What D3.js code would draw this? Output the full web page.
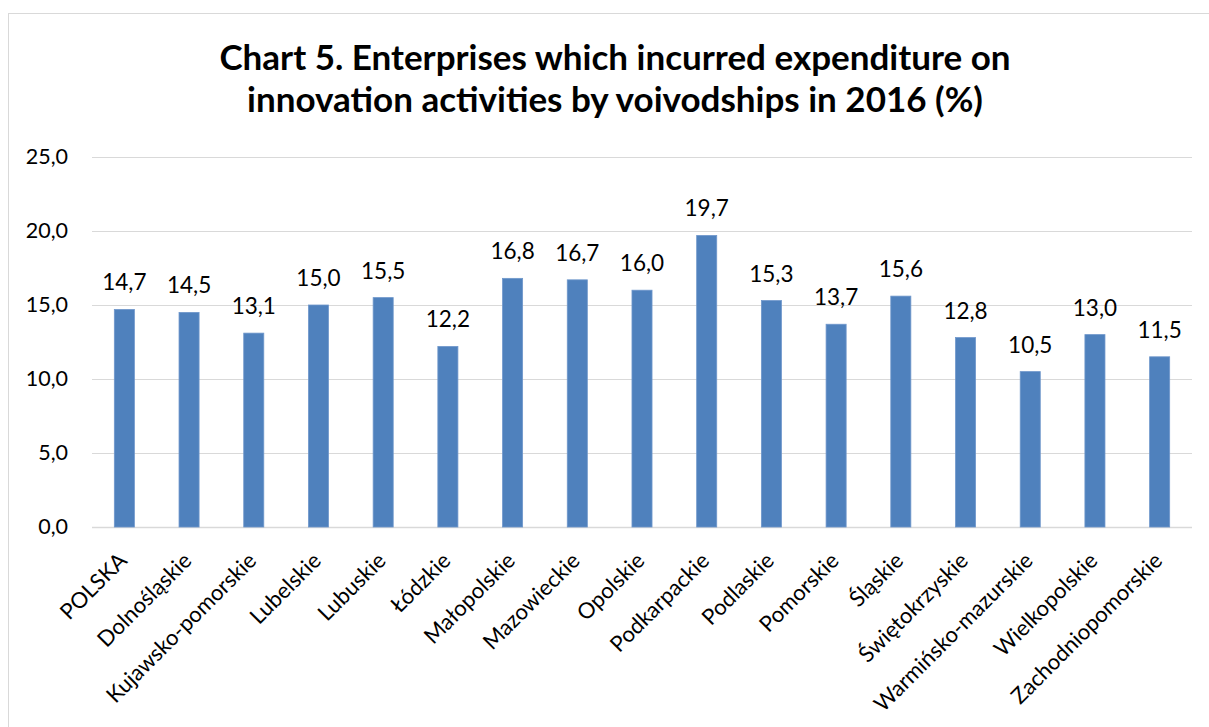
<!DOCTYPE html>
<html>
<head>
<meta charset="utf-8">
<script src="https://cdn.jsdelivr.net/npm/d3@7"></script>
<style>
  html, body { margin: 0; padding: 0; background: #fff; }
  svg { display: block; }
  text { font-family: Lato, "Open Sans", sans-serif; fill: #000; }
</style>
</head>
<body>
<svg id="chart" width="1209" height="727"></svg>
<script>
// Voivodships and their share of enterprises with innovation expenditure (%)
const categories = ["POLSKA", "Dolnośląskie", "Kujawsko-pomorskie", "Lubelskie", "Lubuskie",
  "Łódzkie", "Małopolskie", "Mazowieckie", "Opolskie", "Podkarpackie", "Podlaskie",
  "Pomorskie", "Śląskie", "Świętokrzyskie", "Warmińsko-mazurskie", "Wielkopolskie",
  "Zachodniopomorskie"];
const values = [14.7, 14.5, 13.1, 15.0, 15.5, 12.2, 16.8, 16.7, 16.0, 19.7, 15.3,
  13.7, 15.6, 12.8, 10.5, 13.0, 11.5];
const yTicks = [0, 5, 10, 15, 20, 25];
const titleLines = ["Chart 5. Enterprises which incurred expenditure on",
  "innovation activities by voivodships in 2016 (%)"];

const svg = d3.select("#chart");
const W = 1209, H = 727;
const plot = { left: 92, right: 1192, top: 157, bottom: 527 };

// chart frame
svg.append("rect")
  .attr("x", 8.5).attr("y", 13.5)
  .attr("width", W + 10).attr("height", H + 10)
  .attr("fill", "#fff").attr("stroke", "#d9d9d9").attr("stroke-width", 1);

// title
svg.append("g").selectAll("text").data(titleLines).join("text")
  .attr("x", 615).attr("y", (d, i) => 70 + i * 42)
  .attr("text-anchor", "middle")
  .style("font-size", "35px").style("font-weight", "bold")
  .text(d => d);

const x = d3.scaleBand().domain(categories).range([plot.left, plot.right]).paddingInner(0.69).paddingOuter(0.345);
const y = d3.scaleLinear().domain([0, 25]).range([plot.bottom, plot.top]);
const fmt = v => d3.format(".1f")(v).replace(".", ",");

// gridlines
svg.append("g").selectAll("line").data(yTicks).join("line")
  .attr("x1", plot.left).attr("x2", plot.right)
  .attr("y1", d => Math.round(y(d)) + 0.5).attr("y2", d => Math.round(y(d)) + 0.5)
  .attr("stroke", "#d9d9d9").attr("stroke-width", d => d === 0 ? 1.5 : 1.2);

// y axis labels
const yAxis = d3.axisLeft(y).tickValues(yTicks).tickFormat(fmt).tickSize(0).tickPadding(0);
const yG = svg.append("g").attr("transform", `translate(${68},0)`).call(yAxis);
yG.select(".domain").remove();
yG.selectAll("text").style("font-size", "21.5px").style("font-family", "Lato, 'Open Sans', sans-serif").attr("fill", "#000");

// bars
svg.append("g").selectAll("rect").data(values).join("rect")
  .attr("x", (d, i) => x(categories[i]))
  .attr("y", d => y(d))
  .attr("width", x.bandwidth())
  .attr("height", d => y(0) - y(d))
  .attr("fill", "#4f81bd")
  .attr("stroke", "#6f97cb").attr("stroke-width", 0.8);

// value labels
svg.append("g").selectAll("text").data(values).join("text")
  .attr("x", (d, i) => x(categories[i]) + x.bandwidth() / 2)
  .attr("y", d => y(d) - 19)
  .attr("text-anchor", "middle")
  .style("font-size", "22.5px")
  .text(d => fmt(d));

// category labels, rotated
const xAxis = d3.axisBottom(x).tickSize(0).tickPadding(0);
const xG = svg.append("g").attr("transform", `translate(0,${plot.bottom})`).call(xAxis);
xG.select(".domain").remove();
xG.selectAll("text")
  .style("font-size", "22px").style("font-family", "Lato, 'Open Sans', sans-serif").attr("fill", "#000")
  .attr("text-anchor", "end")
  .attr("dy", null)
  .attr("transform", "translate(4,35) rotate(-45)");
</script>
</body>
</html>
